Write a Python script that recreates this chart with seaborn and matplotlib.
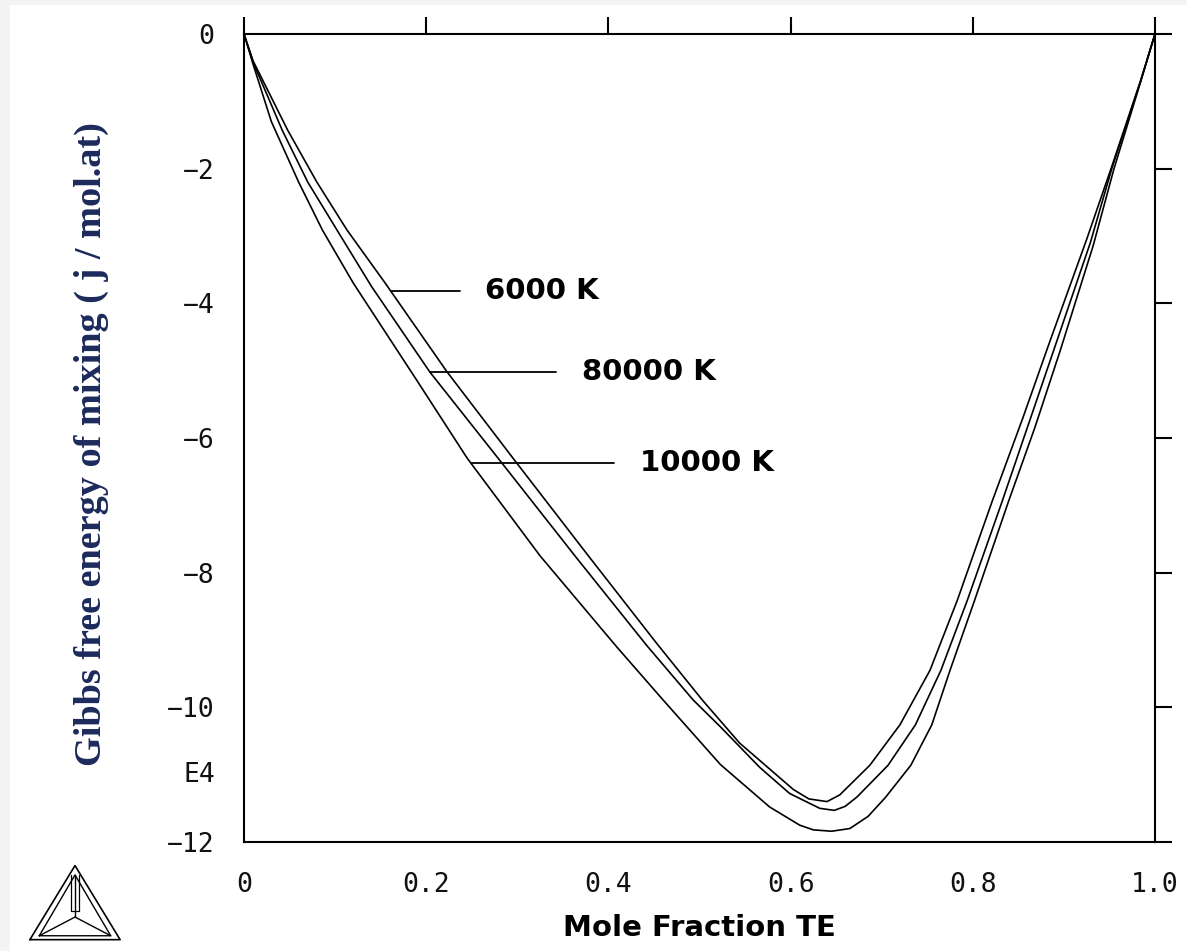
# Gibbs free energy of mixing vs mole fraction TE, three temperatures

import numpy as np
import pandas as pd
import matplotlib
matplotlib.use("Agg")
import matplotlib.pyplot as plt
from matplotlib.patches import Rectangle
import seaborn as sns

# curve values (y in units of 1E4 J/mol.at)
x_10000 = [0.0, 0.01, 0.03, 0.06, 0.086, 0.12, 0.19, 0.245, 0.325, 0.409, 0.46, 0.523, 0.577,
           0.61, 0.625, 0.645, 0.665, 0.685, 0.704, 0.732, 0.755, 0.775, 0.802, 0.839, 0.868,
           0.896, 0.932, 0.955, 0.984, 1.0]
y_10000 = [0.0, -0.45, -1.30, -2.20, -2.91, -3.70, -5.15, -6.30, -7.75, -9.10, -9.89, -10.85, -11.48,
           -11.75, -11.82, -11.84, -11.80, -11.62, -11.34, -10.86, -10.26, -9.45, -8.41, -6.95, -5.85,
           -4.70, -3.15, -2.00, -0.72, 0.0]

x_80000 = [0.0, 0.01, 0.042, 0.07, 0.102, 0.14, 0.204, 0.283, 0.365, 0.442, 0.493, 0.523, 0.566,
           0.599, 0.632, 0.648, 0.66, 0.673, 0.707, 0.737, 0.765, 0.794, 0.832, 0.861, 0.890,
           0.929, 0.953, 0.984, 1.0]
y_80000 = [0.0, -0.42, -1.43, -2.20, -2.91, -3.75, -5.02, -6.37, -7.78, -9.08, -9.89, -10.29, -10.89,
           -11.28, -11.50, -11.53, -11.47, -11.33, -10.86, -10.26, -9.45, -8.41, -6.95, -5.80, -4.65,
           -3.10, -1.98, -0.71, 0.0]

x_6000 = [0.0, 0.01, 0.048, 0.08, 0.113, 0.155, 0.223, 0.297, 0.378, 0.453, 0.503, 0.544, 0.603,
          0.62, 0.64, 0.654, 0.687, 0.720, 0.753, 0.783, 0.821, 0.855, 0.885, 0.925, 0.953,
          0.984, 1.0]
y_6000 = [0.0, -0.40, -1.43, -2.20, -2.91, -3.70, -5.02, -6.33, -7.75, -9.05, -9.89, -10.53, -11.22,
          -11.36, -11.40, -11.30, -10.86, -10.26, -9.45, -8.41, -6.95, -5.70, -4.55, -3.05, -1.95,
          -0.70, 0.0]

curve_names = ["6000 K", "80000 K", "10000 K"]
label_y = [-3.82, -5.02, -6.37]
leader_end_x = [0.237, 0.342, 0.406]
label_x = [0.265, 0.371, 0.435]

x_ticks = [0, 0.2, 0.4, 0.6, 0.8, 1.0]
x_tick_labels = ["0", "0.2", "0.4", "0.6", "0.8", "1.0"]
y_ticks = [0, -2, -4, -6, -8, -10, -12]
y_tick_labels = ["0", "\u22122", "\u22124", "\u22126", "\u22128", "\u221210", "\u221212"]

curves = {
    "6000 K": (x_6000, y_6000),
    "80000 K": (x_80000, y_80000),
    "10000 K": (x_10000, y_10000),
}

df = pd.concat(
    [pd.DataFrame({"x": xs, "y": ys, "curve": name}) for name, (xs, ys) in curves.items()],
    ignore_index=True,
)

sns.set_style("white")
plt.rcParams["font.family"] = ["DejaVu Sans"]

W, H = 1187, 951
fig = plt.figure(figsize=(W / 100, H / 100), dpi=100)
fig.patch.set_facecolor("#f4f4f4")
fig.add_artist(Rectangle((10 / W, 0), 1, 1 - 5 / H, transform=fig.transFigure,
                         facecolor="white", edgecolor="none", zorder=-10))

ax = fig.add_axes([244 / W, 1 - 842 / H, 911 / W, 808 / H])
ax.set_facecolor("white")

sns.lineplot(data=df, x="x", y="y", hue="curve", palette=["black"] * 3, legend=False,
             sort=False, estimator=None, linewidth=1.2, ax=ax)
for ln in ax.get_lines():
    ln.set_solid_joinstyle("round")

# leader lines and temperature labels
for name, ly, lx_end, tx in zip(curve_names, label_y, leader_end_x, label_x):
    xs, ys = curves[name]
    imin = int(np.argmin(ys))
    x_on_curve = np.interp(ly, ys[:imin + 1][::-1], xs[:imin + 1][::-1])
    ax.plot([x_on_curve, lx_end], [ly, ly], color="black", lw=1.3)
    ax.text(tx, ly, name, ha="left", va="center", fontsize=21, fontweight="bold",
            color="black")

ax.set_xlim(0, 1)
ax.set_ylim(-12, 0)
ax.set_xticks(x_ticks)
ax.set_xticklabels(x_tick_labels, fontfamily="DejaVu Sans Mono")
ax.set_yticks(y_ticks)
ax.set_yticklabels(y_tick_labels, fontfamily="DejaVu Sans Mono")
ax.tick_params(axis="both", direction="out", length=12.5, width=1.5, color="black",
               top=True, right=True, labelsize=19, pad=9, labelcolor="#111111")

for sp in ax.spines.values():
    sp.set_visible(True)
    sp.set_color("black")
    sp.set_linewidth(1.5)

ax.text(-0.032, 0.083, "E4", transform=ax.transAxes, ha="right", va="center",
        fontsize=19, fontfamily="DejaVu Sans Mono", color="#111111")

ax.set_xlabel("Mole Fraction TE", fontsize=21, fontweight="bold", color="black")
ax.xaxis.set_label_coords(0.5, -0.106)
ax.xaxis.label.set_va("center")

ax.set_ylabel("Gibbs free energy of mixing ( j / mol.at)", fontsize=27.5, fontweight="bold",
              fontfamily="Liberation Serif", color="#1c2a5c")
ax.yaxis.set_label_coords(-0.167, 0.493)
ax.yaxis.label.set_va("center")

# small triangle logo, bottom left
lax = fig.add_axes([28 / W, 1 - 942 / H, 94 / W, 78 / H])
lax.set_xlim(0, 1)
lax.set_ylim(0, 1)
lax.axis("off")
lax.plot([0.02, 0.98, 0.5, 0.02], [0.03, 0.03, 0.98, 0.03], color="black", lw=1.2)
lax.plot([0.12, 0.88, 0.5, 0.12], [0.08, 0.08, 0.86, 0.08], color="black", lw=1.0)
for vx, vy in [(0.12, 0.08), (0.88, 0.08), (0.5, 0.86)]:
    lax.plot([0.5, vx], [0.32, vy], color="black", lw=1.0)
lax.plot([0.46, 0.46, 0.54, 0.54], [0.86, 0.4, 0.4, 0.86], color="black", lw=0.9)

fig.savefig("out.png", dpi=100, facecolor=fig.get_facecolor())
